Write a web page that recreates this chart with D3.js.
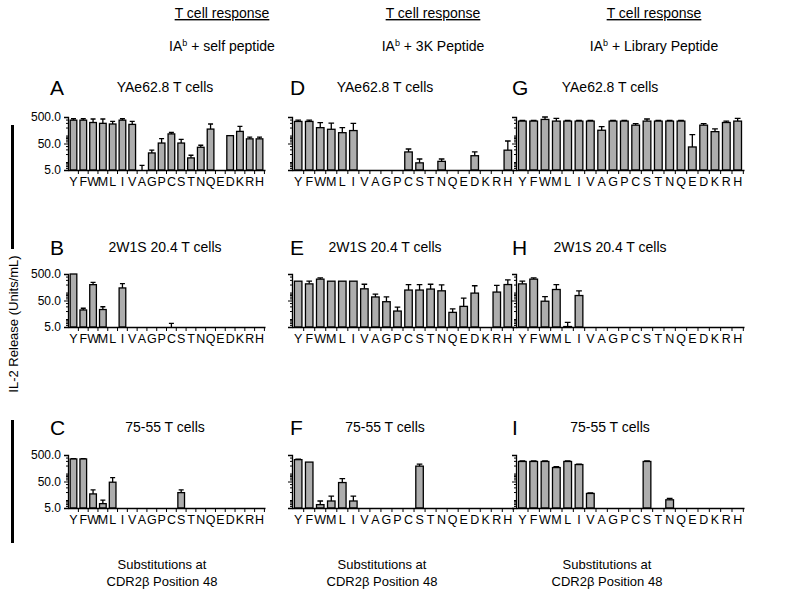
<!DOCTYPE html>
<html>
<head>
<meta charset="utf-8">
<script src="https://cdn.jsdelivr.net/npm/d3@7"></script>
<style>
  body { margin: 0; background: #fff; }
  svg { font-family: "Liberation Sans", Arial, sans-serif; }
</style>
</head>
<body>
<svg id="chart" width="800" height="603"></svg>
<script>
// categories: substitutions at CDR2b position 48
var categories = ['Y', 'F', 'W', 'M', 'L', 'I', 'V', 'A', 'G', 'P', 'C', 'S', 'T', 'N', 'Q', 'E', 'D', 'K', 'R', 'H']
var yTickValues = [5, 50, 500]

var columnHeads = ['self peptide', '3K Peptide', 'Library Peptide']
var cellLines = ['YAe62.8 T cells', '2W1S 20.4 T cells', '75-55 T cells']
var panelLetters = ['A', 'B', 'C', 'D', 'E', 'F', 'G', 'H', 'I']

// IL-2 release (units/mL), null = no response; err* = top of error bar
var valuesA = [380, 380, 310, 288, 272, 380, 263, 5, 22, 52, 115, 52, 14.3, 36, 175, null, 99, 143, 75, 75]
var errA = [430, 430, 420, 420, 340, 430, 340, 7.5, 28, 76, 130, 71, 18, 43, 272, null, null, 222, 87, 87]
var valuesB = [500, 22, 198, 22.8, null, 149, null, null, null, null, 5, null, null, null, null, null, null, null, null, null]
var errB = [null, 25.5, 240, 29, null, 215, null, null, null, null, 6.9, null, null, null, null, null, null, null, null, null]
var valuesC = [355, 355, 17, 7.3, 47, null, null, null, null, null, null, 19, null, null, null, null, null, null, null, null]
var errC = [365, 365, 24, 9.9, 70, null, null, null, null, null, null, 24, null, null, null, null, null, null, null, null]

var valuesD = [340, 340, 198, 172, 128, 154, null, null, null, null, 24, 9.3, null, 10.6, null, null, 17.3, null, null, 28]
var errD = [380, 380, 305, 295, 198, 285, null, null, null, null, 31, 13, null, 13, null, null, 24, null, null, 62]
var valuesE = [268, 212, 320, 268, 268, 268, 138, 68, 45, 20, 124, 124, 135, 116, 17.8, 30, 95, null, 104, 200]
var errE = [null, 268, 360, null, null, null, 205, 87, 68, 28, 200, 200, 205, 195, 24, 61, 180, null, 187, 300]
var valuesF = [334, 270, 6.7, 9.2, 45.6, 9.2, null, null, null, null, null, 190, null, null, null, null, null, null, null, null]
var errF = [350, null, 9.2, 14, 64, 14, null, null, null, null, null, 225, null, null, null, null, null, null, null, null]

var valuesG = [350, 350, 405, 350, 350, 350, 350, 158, 350, 350, 246, 350, 350, 350, 350, 37, 246, 140, 310, 350]
var errG = [370, 370, 500, 440, 370, 370, 370, 218, 370, 370, 283, 420, 370, 370, 370, 109, 283, 178, 350, 440]
var valuesH = [212, 320, 47, 130, 5.2, 77, null, null, null, null, null, null, null, null, null, null, null, null, null, null]
var errH = [268, 360, 70, 198, 7.5, 116, null, null, null, null, null, null, null, null, null, null, null, null, null, null]
var valuesI = [285, 285, 285, 168, 285, 218, 17.7, null, null, null, null, 285, null, 10.2, null, null, null, null, null, null]
var errI = [300, 300, 300, 180, 300, 225, 18.5, null, null, null, null, 300, null, 11.5, null, null, null, null, null, null]

var panelValues = [valuesA, valuesB, valuesC, valuesD, valuesE, valuesF, valuesG, valuesH, valuesI]
var panelErrors = [errA, errB, errC, errD, errE, errF, errG, errH, errI]

// layout
var colLeft = [68, 292, 516]
var colWidth = [197, 222, 228]
var colCenter = [222, 433, 654]
var titleCenter = [165, 385, 610]
var letterX = [50, 290, 512]
var rowTop = [117, 274, 455]
var titleY = [92, 252, 432]
var plotH = 53
var barFill = '#adadad'

var svg = d3.select('#chart')

// column headers
columnHeads.forEach(function (head, c) {
  svg.append('text')
    .attr('x', colCenter[c]).attr('y', 18)
    .attr('text-anchor', 'middle')
    .attr('font-size', 14)
    .attr('text-decoration', 'underline')
    .text('T cell response')
  var sub = svg.append('text')
    .attr('x', colCenter[c]).attr('y', 51)
    .attr('text-anchor', 'middle')
    .attr('font-size', 14)
  sub.append('tspan').text('IA')
  sub.append('tspan').attr('font-size', 9).attr('dy', -5).text('b')
  sub.append('tspan').attr('dy', 5).text(' + ' + head)
})

// y axis label with the two bars
svg.append('text')
  .attr('transform', 'translate(18,324) rotate(-90)')
  .attr('text-anchor', 'middle')
  .attr('font-size', 13)
  .text('IL-2 Release (Units/mL)')
svg.append('rect').attr('x', 11).attr('y', 125).attr('width', 3).attr('height', 124).attr('fill', '#000')
svg.append('rect').attr('x', 11).attr('y', 420).attr('width', 3).attr('height', 123).attr('fill', '#000')

panelValues.forEach(function (vals, p) {
  var c = Math.floor(p / 3)
  var r = p % 3
  var errs = panelErrors[p]
  var w = colWidth[c]

  var g = svg.append('g')
    .attr('transform', 'translate(' + colLeft[c] + ',' + rowTop[r] + ')')

  var x = d3.scaleBand().domain(categories).range([0, w])
    .paddingInner(0.32).paddingOuter(0.22)
  var y = d3.scaleLog().domain([5, 500]).range([plotH, 0]).clamp(true)

  // panel letter and title
  svg.append('text')
    .attr('x', letterX[c]).attr('y', titleY[r] + 3)
    .attr('font-size', 21)
    .text(panelLetters[p])
  svg.append('text')
    .attr('x', titleCenter[c]).attr('y', titleY[r])
    .attr('text-anchor', 'middle')
    .attr('font-size', 14)
    .text(cellLines[r])

  var data = categories.map(function (k, i) { return { k: k, v: vals[i], e: errs[i] } })

  // error bars
  var cap = x.bandwidth() * 0.75
  var withErr = data.filter(function (d) { return d.v != null && d.e != null })
  g.selectAll('.err').data(withErr).enter().append('path')
    .attr('class', 'err')
    .attr('fill', 'none').attr('stroke', '#000').attr('stroke-width', 1.3)
    .attr('d', function (d) {
      var cx = x(d.k) + x.bandwidth() / 2
      return 'M' + cx + ',' + y(d.v) + 'V' + y(d.e) +
        'M' + (cx - cap / 2) + ',' + y(d.e) + 'H' + (cx + cap / 2)
    })

  // bars
  g.selectAll('.bar').data(data.filter(function (d) { return d.v != null && d.v > 5 })).enter()
    .append('rect')
    .attr('class', 'bar')
    .attr('x', function (d) { return x(d.k) })
    .attr('y', function (d) { return y(d.v) })
    .attr('width', x.bandwidth())
    .attr('height', function (d) { return plotH - y(d.v) })
    .attr('fill', barFill)
    .attr('stroke', '#000').attr('stroke-width', 1.3)

  // y axis (log) with minor ticks
  var minor = y.ticks().filter(function (t) { return yTickValues.indexOf(t) < 0 })
  g.append('g').call(d3.axisLeft(y).tickValues(minor).tickSize(2).tickFormat(''))
    .call(function (a) { a.select('.domain').remove() })
  var yAxis = d3.axisLeft(y).tickValues(yTickValues).tickSizeOuter(0).tickSize(4)
    .tickFormat(c === 0 ? d3.format('.1f') : '')
  g.append('g').call(yAxis)
    .call(function (a) {
      a.select('.domain').attr('stroke-width', 1.3)
      a.selectAll('text').attr('font-size', 12).attr('fill', '#000')
    })

  // x axis: letters under bars, ticks between categories
  var xAxis = d3.axisBottom(x).tickSize(0).tickPadding(7)
  g.append('g').attr('transform', 'translate(0,' + plotH + ')').call(xAxis)
    .call(function (a) {
      a.select('.domain').attr('stroke-width', 1.3)
      a.selectAll('text').attr('font-size', 12.5).attr('fill', '#000')
    })
  var half = (x.step() - x.bandwidth()) / 2
  var bounds = categories.map(function (k) { return x(k) + x.bandwidth() + half })
  g.selectAll('.xtick').data(bounds).enter().append('line')
    .attr('x1', function (d) { return d }).attr('x2', function (d) { return d })
    .attr('y1', plotH).attr('y2', plotH + 4)
    .attr('stroke', '#000').attr('stroke-width', 1)

  // footer under bottom row
  if (r === 2) {
    svg.append('text')
      .attr('x', titleCenter[c] - 3).attr('y', 569)
      .attr('text-anchor', 'middle').attr('font-size', 13)
      .text('Substitutions at')
    svg.append('text')
      .attr('x', titleCenter[c] - 3).attr('y', 586)
      .attr('text-anchor', 'middle').attr('font-size', 13)
      .text('CDR2\u03b2 Position 48')
  }
})
</script>
</body>
</html>
